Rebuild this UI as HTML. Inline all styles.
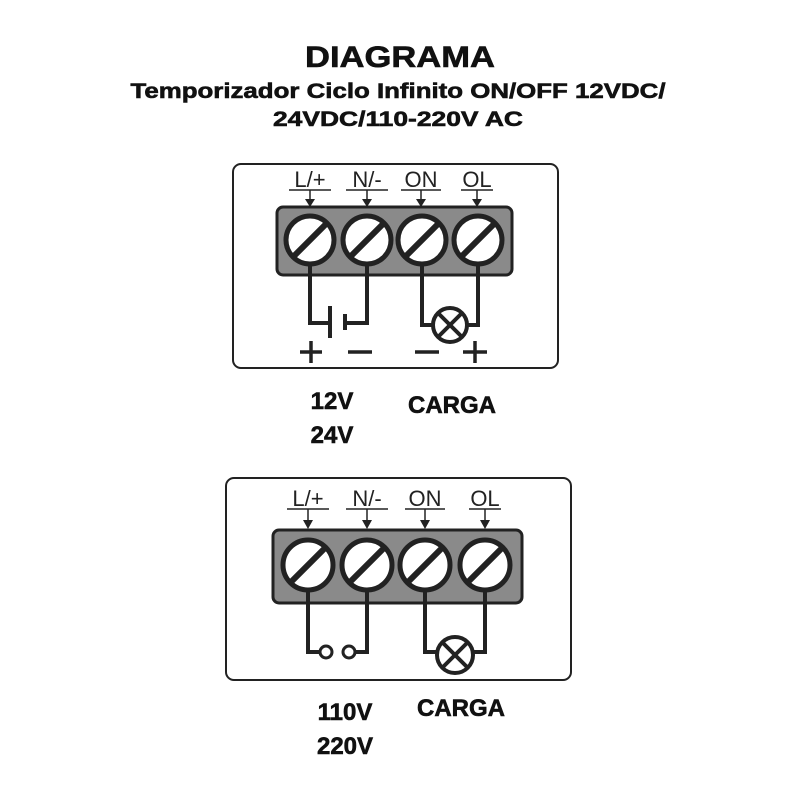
<!DOCTYPE html>
<html><head><meta charset="utf-8"><style>html,body{margin:0;padding:0;background:#fff}svg{display:block}</style></head><body>
<svg width="800" height="800" viewBox="0 0 800 800" xmlns="http://www.w3.org/2000/svg" font-family="Liberation Sans, sans-serif">
<rect width="800" height="800" fill="#fff"/>
<g font-weight="bold" fill="#111" text-anchor="middle" stroke="#111" stroke-width="0.6">
<text x="400" y="67" font-size="30" textLength="190" lengthAdjust="spacingAndGlyphs">DIAGRAMA</text>
<text x="398" y="98" font-size="21" textLength="535" lengthAdjust="spacingAndGlyphs">Temporizador Ciclo Infinito ON/OFF 12VDC/</text>
<text x="398" y="126" font-size="21" textLength="250" lengthAdjust="spacingAndGlyphs">24VDC/110-220V AC</text>
<text x="332" y="409" font-size="24">12V</text>
<text x="332" y="443" font-size="24">24V</text>
<text x="452" y="413" font-size="24">CARGA</text>
<text x="345" y="720" font-size="24">110V</text>
<text x="345" y="754" font-size="24">220V</text>
<text x="461" y="716" font-size="24">CARGA</text>
</g>
<g fill="none" stroke="#222">
<rect x="233" y="164" width="325" height="204" rx="8" stroke-width="2"/>
<rect x="277" y="207" width="235" height="68" rx="6" fill="#8a8a8a" stroke-width="3"/>
<g stroke-width="5" fill="#fff">
<circle cx="310" cy="240" r="24"/><circle cx="367" cy="240" r="24"/><circle cx="422" cy="240" r="24"/><circle cx="478" cy="240" r="24"/>
</g>
<g stroke-width="6">
<line x1="294" y1="256" x2="326" y2="224"/><line x1="351" y1="256" x2="383" y2="224"/><line x1="406" y1="256" x2="438" y2="224"/><line x1="462" y1="256" x2="494" y2="224"/>
</g>
<g stroke-width="4">
<polyline points="310,264 310,323 330,323"/>
<line x1="330" y1="306" x2="330" y2="338"/>
<line x1="345" y1="314" x2="345" y2="330"/>
<polyline points="345,323 367,323 367,264"/>
<polyline points="422,264 422,325 433,325"/>
<polyline points="478,264 478,325 467,325"/>
<circle cx="450" cy="325" r="17" fill="#fff"/>
<line x1="439" y1="314" x2="461" y2="336"/><line x1="461" y1="314" x2="439" y2="336"/>
</g>
<g stroke-width="3.5">
<line x1="300" y1="352" x2="322" y2="352"/><line x1="311" y1="341" x2="311" y2="363"/>
<line x1="348" y1="352" x2="372" y2="352"/>
<line x1="415" y1="352" x2="439" y2="352"/>
<line x1="463" y1="352" x2="487" y2="352"/><line x1="475" y1="341" x2="475" y2="363"/>
</g>
<rect x="226" y="478" width="345" height="202" rx="8" stroke-width="2"/>
<rect x="273" y="530" width="249" height="73" rx="6" fill="#8a8a8a" stroke-width="3"/>
<g stroke-width="5" fill="#fff">
<circle cx="308" cy="565" r="25"/><circle cx="367" cy="565" r="25"/><circle cx="425" cy="565" r="25"/><circle cx="485" cy="565" r="25"/>
</g>
<g stroke-width="6">
<line x1="291" y1="582" x2="325" y2="548"/><line x1="350" y1="582" x2="384" y2="548"/><line x1="408" y1="582" x2="442" y2="548"/><line x1="468" y1="582" x2="502" y2="548"/>
</g>
<g stroke-width="4">
<polyline points="308,590 308,652 320,652"/>
<circle cx="326" cy="652" r="6" fill="#fff" stroke-width="3"/>
<circle cx="349" cy="652" r="6" fill="#fff" stroke-width="3"/>
<polyline points="355,652 367,652 367,590"/>
<polyline points="425,590 425,652 437,652"/>
<polyline points="485,590 485,652 473,652"/>
<circle cx="455" cy="655" r="18" fill="#fff"/>
<line x1="443" y1="643" x2="467" y2="667"/><line x1="467" y1="643" x2="443" y2="667"/>
</g>
</g>
<g font-size="22" fill="#222" text-anchor="middle">
<text x="310" y="187">L/+</text><text x="367" y="187">N/-</text><text x="421" y="187">ON</text><text x="477" y="187">OL</text>
<text x="308" y="506">L/+</text><text x="367" y="506">N/-</text><text x="425" y="506">ON</text><text x="485" y="506">OL</text>
</g>
<g stroke="#222" stroke-width="1.5">
<line x1="289" y1="190" x2="331" y2="190"/><line x1="346" y1="190" x2="388" y2="190"/><line x1="401" y1="190" x2="441" y2="190"/><line x1="461" y1="190" x2="493" y2="190"/>
<line x1="287" y1="509" x2="329" y2="509"/><line x1="346" y1="509" x2="388" y2="509"/><line x1="405" y1="509" x2="445" y2="509"/><line x1="469" y1="509" x2="501" y2="509"/>
<line x1="310" y1="190" x2="310" y2="202"/><line x1="367" y1="190" x2="367" y2="202"/><line x1="421" y1="190" x2="421" y2="202"/><line x1="477" y1="190" x2="477" y2="202"/>
<line x1="308" y1="509" x2="308" y2="522"/><line x1="367" y1="509" x2="367" y2="522"/><line x1="425" y1="509" x2="425" y2="522"/><line x1="485" y1="509" x2="485" y2="522"/>
</g>
<g fill="#222">
<path d="M305,199 L315,199 L310,207Z"/><path d="M362,199 L372,199 L367,207Z"/><path d="M416,199 L426,199 L421,207Z"/><path d="M472,199 L482,199 L477,207Z"/>
<path d="M303,520 L313,520 L308,529Z"/><path d="M362,520 L372,520 L367,529Z"/><path d="M420,520 L430,520 L425,529Z"/><path d="M480,520 L490,520 L485,529Z"/>
</g>
</svg>
</body></html>
